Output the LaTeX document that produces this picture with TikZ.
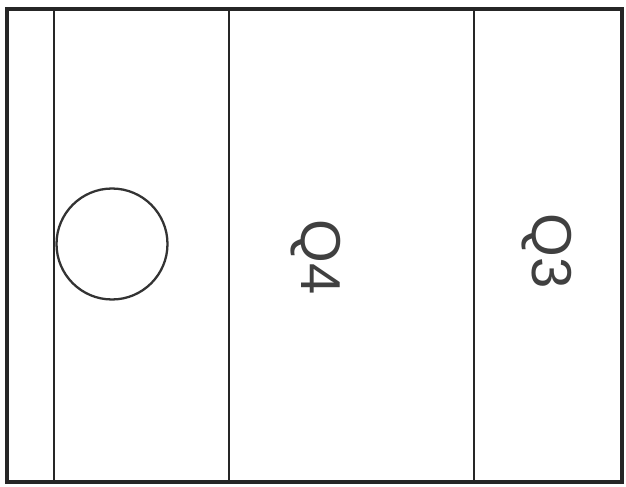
\documentclass[tikz,border=0pt]{standalone}
\usepackage{fontspec}
\setmainfont{Liberation Sans}
\usetikzlibrary{positioning}

\begin{document}
\begin{tikzpicture}[x=0.02cm, y=-0.02cm,
  frame/.style={draw=black!85, line width=2.2pt},
  divider/.style={draw=black!85, line width=1.1pt},
  ring/.style={draw=black!80, circle, line width=1.3pt, inner sep=0pt, minimum size=2.22cm},
  quarter/.style={text=black!75, inner sep=0pt, rotate=-90, font=\fontsize{32}{36}\selectfont}]
  \useasboundingbox (0,0) rectangle (626,487);
  % outline and strips
  \draw[frame] (7,9) rectangle (622,482);
  \draw[divider] (54,9) -- (54,482);
  \draw[divider] (229,9) -- (229,482);
  \draw[divider] (474,9) -- (474,482);
  % labels
  \node[ring] (hole) at (112,244) {};
  \node[quarter] (q4) at (316,257) {Q4};
  \node[quarter] (q3) at (547,251) {Q3};
\end{tikzpicture}
\end{document}
